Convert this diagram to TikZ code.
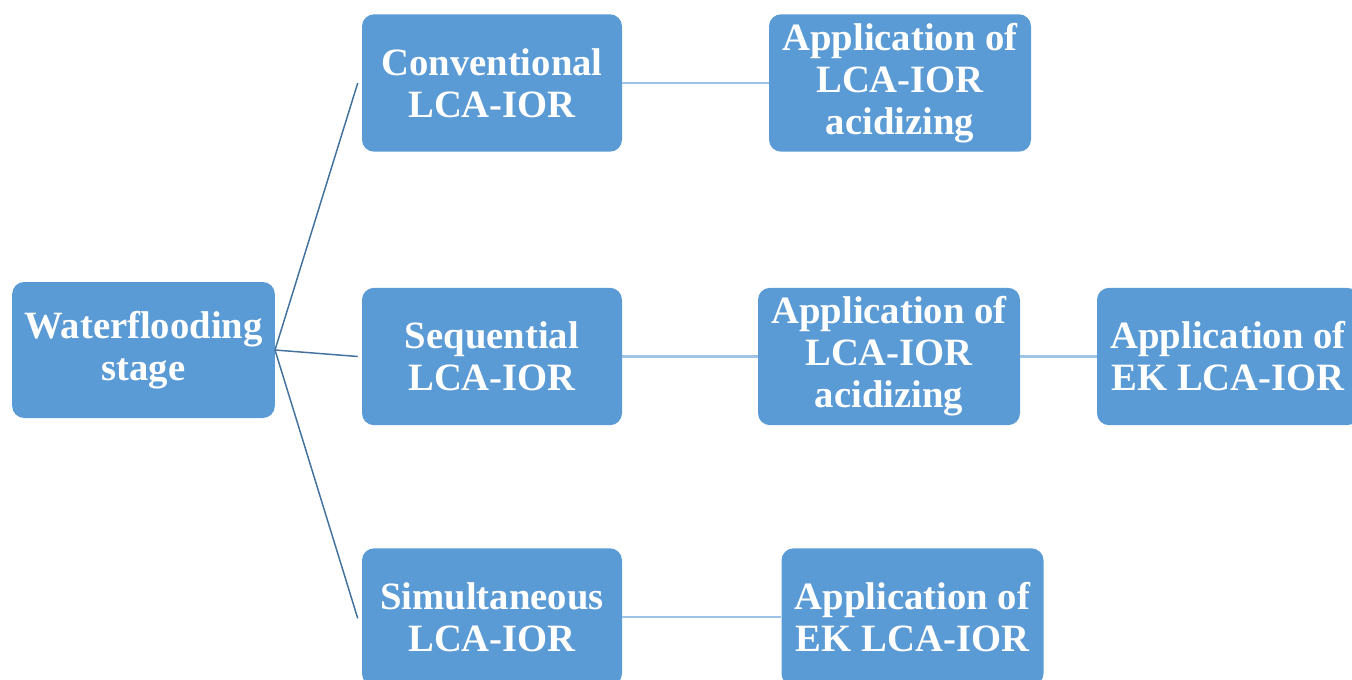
\documentclass[tikz,border=0pt]{standalone}
\usepackage{fontspec}
\setmainfont{Liberation Serif}
\definecolor{boxblue}{HTML}{5B9BD5}
\definecolor{darkline}{HTML}{41719C}
\definecolor{lightline}{HTML}{9DC3E6}
\begin{document}
\begin{tikzpicture}[x=0.75pt,y=-0.75pt,
  box/.style={rectangle, rounded corners=9pt, fill=boxblue, text=white,
    font=\fontsize{29}{31.5}\selectfont\bfseries, align=center, inner sep=0pt,
    minimum height=103pt},
  w262/.style={minimum width=196.5pt},
  tree/.style={draw=darkline, line width=1.1pt},
  link/.style={draw=lightline, line width=2.2pt}]
\useasboundingbox (0,0) rectangle (1352,679);
\clip (0,0) rectangle (1352,679);
\node[box, minimum width=197pt, minimum height=102pt] (W) at (143.5,350) {Waterflooding\\stage};
\node[box, minimum width=195pt] (C) at (492,83) {Conventional\\LCA-IOR};
\node[box, minimum width=195pt] (S) at (492,356.5) {Sequential\\LCA-IOR};
\node[box, minimum width=195pt] (M) at (492,617) {Simultaneous\\LCA-IOR};
\node[box, w262] (A1) at (900,83) {Application of\\LCA-IOR\\acidizing};
\node[box, w262] (A2) at (889,356.5) {Application of\\LCA-IOR\\acidizing};
\node[box, w262] (E1) at (1228,356.5) {Application of\\EK LCA-IOR};
\node[box, w262] (E2) at (912.5,617) {Application of\\EK LCA-IOR};
\coordinate (Wo) at (275,350);
\draw[tree] (Wo) -- ([xshift=-3pt]C.west);
\draw[tree] (Wo) -- ([xshift=-3pt]S.west);
\draw[tree] (Wo) -- ([xshift=-3pt,yshift=-1pt]M.west);
\draw[link] (C.east) -- (A1.west);
\draw[link] (S.east) -- (A2.west);
\draw[link] (A2.east) -- (E1.west);
\draw[link] (M.east) -- (E2.west);
\end{tikzpicture}
\end{document}
